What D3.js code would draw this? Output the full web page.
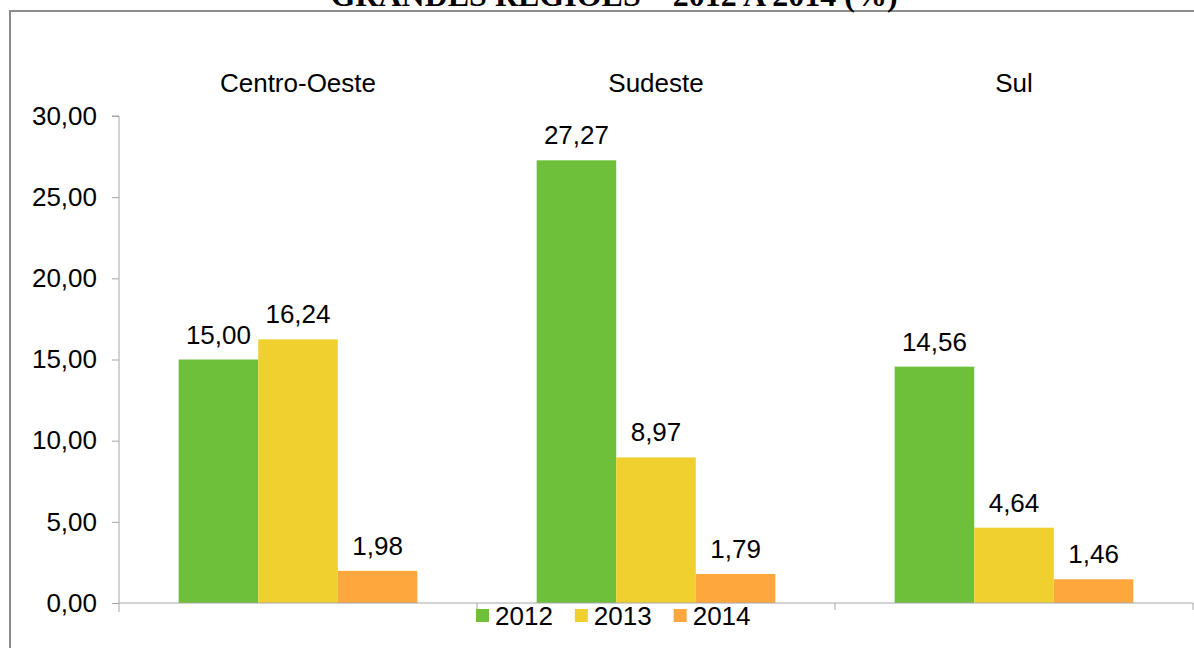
<!DOCTYPE html>
<html>
<head>
<meta charset="utf-8">
<script src="https://cdn.jsdelivr.net/npm/d3@7"></script>
<style>
  body { margin: 0; background: #fff; }
  svg { display: block; }
  text { font-family: "Liberation Sans", Arial, sans-serif; fill: #000; }
</style>
</head>
<body>
<svg id="chart"></svg>
<script>
// regions and years
var regions = ["Centro-Oeste", "Sudeste", "Sul"];
var years = ["2012", "2013", "2014"];
var values2012 = [15.00, 27.27, 14.56];
var values2013 = [16.24, 8.97, 4.64];
var values2014 = [1.98, 1.79, 1.46];
var yTicks = [0, 5, 10, 15, 20, 25, 30];
var titleText = "GRANDES REGIÕES – 2012 A 2014 (%)";

var colors = {"2012": "#6ebf3a", "2013": "#f0d02f", "2014": "#fea73c"};
var seriesValues = {"2012": values2012, "2013": values2013, "2014": values2014};

var width = 1194, height = 648;
var fontSize = "26px";
var svg = d3.select("#chart")
    .attr("width", width)
    .attr("height", height);

var ptBR = d3.formatLocale({decimal: ",", thousands: ".", grouping: [3], currency: ["R$", ""]});
var fmt = ptBR.format(".2f");

// outer frame (cut off at top/right like the scan)
svg.append("line")
    .attr("x1", 10).attr("x2", width)
    .attr("y1", 11).attr("y2", 11)
    .attr("stroke", "#8c8c8c").attr("stroke-width", 2);
svg.append("line")
    .attr("x1", 10).attr("x2", 10)
    .attr("y1", 10).attr("y2", height)
    .attr("stroke", "#8c8c8c").attr("stroke-width", 2);

// title, mostly out of view
svg.append("text")
    .attr("x", 614)
    .attr("y", 6)
    .attr("text-anchor", "middle")
    .style("font-family", "'Liberation Serif', 'Times New Roman', serif")
    .style("font-weight", "bold")
    .style("font-size", "32px")
    .text(titleText);

var plot = {left: 119, right: 1193, top: 116, bottom: 603};

var x0 = d3.scaleBand()
    .domain(regions)
    .range([plot.left, plot.right])
    .padding(0);

var x1 = d3.scaleBand()
    .domain(years)
    .range([0, x0.bandwidth()])
    .paddingInner(0)
    .paddingOuter(0.75);

var y = d3.scaleLinear()
    .domain([0, 30])
    .range([plot.bottom, plot.top]);

// bars
var groups = svg.selectAll(".regionG")
    .data(regions)
    .enter().append("g")
    .attr("class", "regionG")
    .attr("transform", function (d) { return "translate(" + x0(d) + ",0)"; });

groups.selectAll("rect")
    .data(function (d, i) {
        return years.map(function (yr) { return {year: yr, value: seriesValues[yr][i]}; });
    })
    .enter().append("rect")
    .attr("x", function (d) { return x1(d.year); })
    .attr("width", x1.bandwidth())
    .attr("y", function (d) { return y(d.value); })
    .attr("height", function (d) { return y(0) - y(d.value); })
    .attr("fill", function (d) { return colors[d.year]; });

groups.selectAll(".valLabel")
    .data(function (d, i) {
        return years.map(function (yr) { return {year: yr, value: seriesValues[yr][i]}; });
    })
    .enter().append("text")
    .attr("class", "valLabel")
    .attr("x", function (d) { return x1(d.year) + x1.bandwidth() / 2; })
    .attr("y", function (d) { return y(d.value) - 16; })
    .attr("text-anchor", "middle")
    .style("font-size", fontSize)
    .text(function (d) { return fmt(d.value); });

// region labels on top
groups.append("text")
    .attr("x", x0.bandwidth() / 2)
    .attr("y", 92)
    .attr("text-anchor", "middle")
    .style("font-size", fontSize)
    .text(function (d) { return d; });

// y axis
var yAxisG = svg.append("g")
    .attr("transform", "translate(" + plot.left + ",0)")
    .call(d3.axisLeft(y).tickValues(yTicks).tickSize(7).tickPadding(15).tickFormat(fmt));
yAxisG.select(".domain").attr("stroke", "#a6a6a6").attr("d", "M-7," + plot.top + "H0V" + (plot.bottom + 9));
yAxisG.selectAll(".tick line").attr("stroke", "#a6a6a6");
yAxisG.selectAll(".tick text")
    .style("font-size", fontSize)
    .style("font-family", "'Liberation Sans', Arial, sans-serif")
    .attr("fill", "#000");

// x axis with ticks at region boundaries
var xAxisG = svg.append("g")
    .attr("transform", "translate(0," + plot.bottom + ")");
xAxisG.append("line")
    .attr("x1", plot.left).attr("x2", plot.right)
    .attr("stroke", "#a6a6a6");
xAxisG.selectAll(".xTick")
    .data(regions)
    .enter().append("line")
    .attr("class", "xTick")
    .attr("x1", function (d) { return x0(d) + x0.bandwidth(); })
    .attr("x2", function (d) { return x0(d) + x0.bandwidth(); })
    .attr("y1", 0).attr("y2", 7)
    .attr("stroke", "#a6a6a6");

// legend
var legend = svg.append("g").attr("class", "legend");
var lx = 476;
years.forEach(function (yr) {
    legend.append("rect")
        .attr("x", lx).attr("y", 609)
        .attr("width", 13).attr("height", 13)
        .attr("fill", colors[yr]);
    var t = legend.append("text")
        .attr("x", lx + 19).attr("y", 625)
        .style("font-size", fontSize)
        .text(yr);
    lx += 19 + t.node().getComputedTextLength() + 22;
});
</script>
</body>
</html>
